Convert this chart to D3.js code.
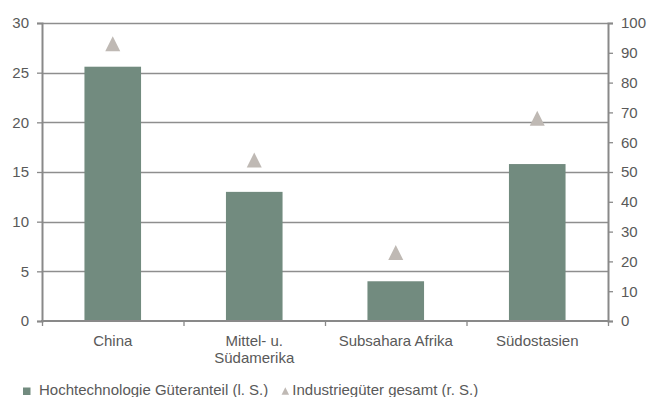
<!DOCTYPE html>
<html><head><meta charset="utf-8">
<script src="https://cdn.jsdelivr.net/npm/d3@7"></script>
<style>body{margin:0;background:#fff;}svg{display:block;font-family:"Liberation Sans",Arial,sans-serif;}</style>
</head><body><svg id="c" width="647" height="397"></svg>
<script>
const categories = [["China"], ["Mittel- u.", "Südamerika"], ["Subsahara Afrika"], ["Südostasien"]];
const hightech = [25.6, 13.0, 4.0, 15.8];
const industrie = [93, 54, 23, 68];
const leftTicks = [0, 5, 10, 15, 20, 25, 30];
const rightTicks = [0, 10, 20, 30, 40, 50, 60, 70, 80, 90, 100];
const seriesNames = ["Hochtechnologie Güteranteil (l. S.)", "Industriegüter gesamt (r. S.)"];

const svg = d3.select("#c");
const L = 42, R = 608, T = 23, B = 321;
const FS = 15;
const textCol = "#595959", axisCol = "#898989";
const x = d3.scaleBand().domain(d3.range(categories.length)).range([L, R]).paddingInner(0.6).paddingOuter(0.3);
const xs = d3.scaleBand().domain(d3.range(categories.length)).range([L, R]);
const yL = d3.scaleLinear().domain([0, 30]).range([B, T]);
const yR = d3.scaleLinear().domain([0, 100]).range([B, T]);

// gridlines
svg.append("g").selectAll("line").data(leftTicks.filter(d => d > 0)).join("line")
  .attr("x1", L).attr("x2", R).attr("y1", d => Math.round(yL(d)) + 0.5).attr("y2", d => Math.round(yL(d)) + 0.5)
  .attr("stroke", "#8e8e8e").attr("stroke-width", 1.3);

// bars
svg.append("g").selectAll("rect").data(hightech).join("rect")
  .attr("x", (d, i) => x(i)).attr("width", x.bandwidth())
  .attr("y", d => yL(d)).attr("height", d => B - yL(d)).attr("fill", "#728b7f");

// triangles (marker 15x15)
const triPath = (cx, cy, w) => `M${cx},${cy - w / 2}L${cx + w / 2},${cy + w / 2}L${cx - w / 2},${cy + w / 2}Z`;
svg.append("g").selectAll("path").data(industrie).join("path")
  .attr("d", (d, i) => triPath(xs(i) + xs.bandwidth() / 2, yR(d), 15))
  .attr("fill", "#bfb9b4");

// left axis
const gl = svg.append("g").attr("transform", `translate(${L},0)`)
  .call(d3.axisLeft(yL).tickValues(leftTicks).tickSize(5).tickPadding(8));
// right axis
const gr = svg.append("g").attr("transform", `translate(${R},0)`)
  .call(d3.axisRight(yR).tickValues(rightTicks).tickSize(5).tickPadding(8));
// x axis
const gx = svg.append("g").attr("transform", `translate(0,${B})`)
  .call(d3.axisBottom(d3.scaleLinear().domain([0, 4]).range([L, R])).ticks(4).tickSize(5).tickFormat(""));
[gl, gr, gx].forEach(g => {
  g.selectAll("path.domain").attr("stroke", axisCol).attr("stroke-width", 2);
  g.selectAll(".tick line").attr("stroke", axisCol).attr("stroke-width", 1.3);
  g.selectAll("text").attr("fill", textCol).attr("font-size", FS).attr("font-family", "Liberation Sans, Arial, sans-serif");
});
gx.selectAll("path.domain").attr("d", `M${L - 1},0H${R + 1}`);

// category labels
const cl = svg.append("g");
categories.forEach((lines, i) => {
  const cx = xs(i) + xs.bandwidth() / 2;
  const t = cl.append("text").attr("x", cx).attr("y", 346)
    .attr("text-anchor", "middle").attr("fill", textCol).attr("font-size", FS);
  lines.forEach((s, j) => t.append("tspan").attr("x", cx).attr("dy", j ? 17 : 0).text(s));
});

// legend
const lg = svg.append("g");
lg.append("rect").attr("x", 23).attr("y", 387.5).attr("width", 7.5).attr("height", 7.5).attr("fill", "#728b7f");
const lt1 = lg.append("text").attr("x", 39).attr("y", 395).attr("fill", textCol).attr("font-size", FS).text(seriesNames[0]);
const w1 = lt1.node().getComputedTextLength();
const tx = 39 + w1 + 17;
lg.append("path").attr("d", triPath(tx, 391, 7.5)).attr("fill", "#bfb9b4");
lg.append("text").attr("x", tx + 7).attr("y", 395).attr("fill", textCol).attr("font-size", FS).text(seriesNames[1]);
</script></body></html>
